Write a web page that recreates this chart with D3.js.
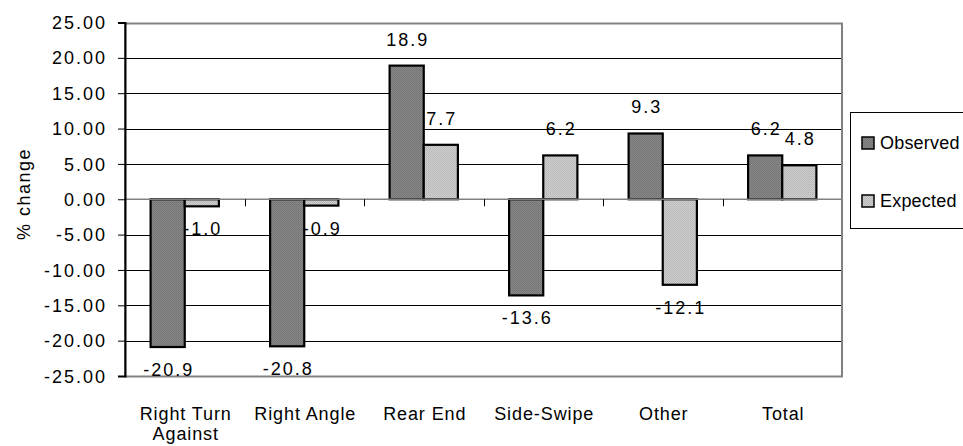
<!DOCTYPE html>
<html>
<head>
<meta charset="utf-8">
<script src="https://cdn.jsdelivr.net/npm/d3@7"></script>
<style>
  html, body { margin: 0; padding: 0; background: #fff; }
  svg { display: block; }
  text { font-family: "Liberation Sans", Arial, sans-serif; fill: #000; }
</style>
</head>
<body>
<svg id="chart" width="963" height="446"></svg>
<script>
// ---- data ----
const categories = [["Right Turn", "Against"], ["Right Angle"], ["Rear End"], ["Side-Swipe"], ["Other"], ["Total"]];
const seriesNames = ["Observed", "Expected"];
const observed = [-20.9, -20.8, 18.9, -13.6, 9.3, 6.2];
const expected = [-1.0, -0.9, 7.7, 6.2, -12.1, 4.8];
const yTicks = [25, 20, 15, 10, 5, 0, -5, -10, -15, -20, -25];
const yTitle = "% change";

// ---- layout ----
const svg = d3.select("#chart");
const plot = { left: 125, right: 842, top: 22.5, bottom: 376 };

const catKeys = categories.map((c, i) => i);
const x = d3.scaleBand().domain(catKeys).range([plot.left, plot.right]).paddingInner(0).paddingOuter(0);
const xs = d3.scaleBand().domain(seriesNames).range([0, x.bandwidth()]).paddingInner(0).paddingOuter(0.75);
const y = d3.scaleLinear().domain([-25, 25]).range([plot.bottom, plot.top]);

// patterns
const defs = svg.append("defs");
const pObs = defs.append("pattern").attr("id", "pObs").attr("width", 2).attr("height", 2).attr("patternUnits", "userSpaceOnUse");
pObs.append("rect").attr("width", 2).attr("height", 2).attr("fill", "#868686");
pObs.append("rect").attr("width", 1).attr("height", 1).attr("fill", "#747474");
pObs.append("rect").attr("x", 1).attr("y", 1).attr("width", 1).attr("height", 1).attr("fill", "#7a7a7a");
const pExp = defs.append("pattern").attr("id", "pExp").attr("width", 2).attr("height", 2).attr("patternUnits", "userSpaceOnUse");
pExp.append("rect").attr("width", 2).attr("height", 2).attr("fill", "#d0d0d0");
pExp.append("rect").attr("width", 1).attr("height", 1).attr("fill", "#b4b4b4");
pExp.append("rect").attr("x", 1).attr("y", 1).attr("width", 1).attr("height", 1).attr("fill", "#bcbcbc");
const fills = { Observed: "url(#pObs)", Expected: "url(#pExp)" };

// gridlines
svg.append("g").selectAll("line").data(yTicks.filter(t => t !== 0 && t !== 25 && t !== -25)).join("line")
  .attr("x1", plot.left).attr("x2", plot.right)
  .attr("y1", d => Math.round(y(d)) + 0.5).attr("y2", d => Math.round(y(d)) + 0.5)
  .attr("stroke", "#000").attr("stroke-width", 1);

// plot border (gray)
svg.append("rect").attr("x", plot.left).attr("y", Math.round(plot.top) + 0.5)
  .attr("width", plot.right - plot.left).attr("height", Math.round(plot.bottom) - Math.round(plot.top))
  .attr("fill", "none").attr("stroke", "#808080").attr("stroke-width", 2);

// bars
const rows = [];
categories.forEach((c, i) => {
  rows.push({ cat: i, s: "Observed", v: observed[i] });
  rows.push({ cat: i, s: "Expected", v: expected[i] });
});
svg.append("g").selectAll("rect").data(rows).join("rect")
  .attr("x", d => x(d.cat) + xs(d.s))
  .attr("width", xs.bandwidth())
  .attr("y", d => y(Math.max(0, d.v)))
  .attr("height", d => Math.abs(y(d.v) - y(0)))
  .attr("fill", d => fills[d.s])
  .attr("stroke", "#000").attr("stroke-width", 2.2);

// zero (category) axis line
svg.append("line").attr("x1", plot.left).attr("x2", plot.right)
  .attr("y1", y(0)).attr("y2", y(0)).attr("stroke", "#808080").attr("stroke-width", 1.5);
// category tick marks
svg.append("g").selectAll("line").data(catKeys.slice(1)).join("line")
  .attr("x1", d => Math.round(x(d)) + 0.5).attr("x2", d => Math.round(x(d)) + 0.5)
  .attr("y1", y(0)).attr("y2", y(0) + 7).attr("stroke", "#000").attr("stroke-width", 1);

// y axis
const yAxis = d3.axisLeft(y).tickValues(yTicks).tickSize(7).tickPadding(13).tickFormat(d => d.toFixed(2));
const gy = svg.append("g").attr("transform", `translate(${plot.left},0)`).call(yAxis);
gy.select(".domain").attr("stroke", "#000").attr("stroke-width", 2);
gy.selectAll(".tick line").attr("stroke", "#000");
gy.selectAll(".tick text").attr("font-size", 18).attr("letter-spacing", 2)
  .attr("font-family", "Liberation Sans, Arial, sans-serif").attr("fill", "#000").attr("dy", "0.34em").attr("x", -18);

// value labels
const fmt = v => v.toFixed(1);
svg.append("g").selectAll("text").data(rows).join("text")
  .attr("x", d => x(d.cat) + xs(d.s) + xs.bandwidth() / 2 + 1)
  .attr("y", d => d.v >= 0 ? y(d.v) - 20 : y(d.v) + 29)
  .attr("text-anchor", "middle").attr("font-size", 18).attr("letter-spacing", 2)
  .text(d => fmt(d.v));

// category labels
const cl = svg.append("g").selectAll("text").data(catKeys).join("text")
  .attr("x", d => x(d) + x.bandwidth() / 2 + 1)
  .attr("y", 420).attr("text-anchor", "middle").attr("font-size", 18).attr("letter-spacing", 0.9);
cl.selectAll("tspan").data(d => categories[d].map((t, j) => ({ t, j, d }))).join("tspan")
  .attr("x", o => x(o.d) + x.bandwidth() / 2 + 1)
  .attr("dy", o => o.j === 0 ? 0 : 20)
  .text(o => o.t);

// y title
svg.append("text").attr("transform", "translate(30,194) rotate(-90)")
  .attr("text-anchor", "middle").attr("font-size", 18).attr("letter-spacing", 1.5).text(yTitle);

// legend
const lg = svg.append("g");
lg.append("rect").attr("x", 850.5).attr("y", 112.5).attr("width", 140).attr("height", 116)
  .attr("fill", "#fff").attr("stroke", "#000").attr("stroke-width", 1);
const legY = [143, 201];
seriesNames.forEach((s, i) => {
  lg.append("rect").attr("x", 862).attr("y", legY[i] - 6).attr("width", 12).attr("height", 12)
    .attr("fill", fills[s]).attr("stroke", "#000").attr("stroke-width", 1.5);
  lg.append("text").attr("x", 880).attr("y", legY[i] + 6).attr("font-size", 18)
    .attr("letter-spacing", 0.2).text(s);
});
</script>
</body>
</html>
